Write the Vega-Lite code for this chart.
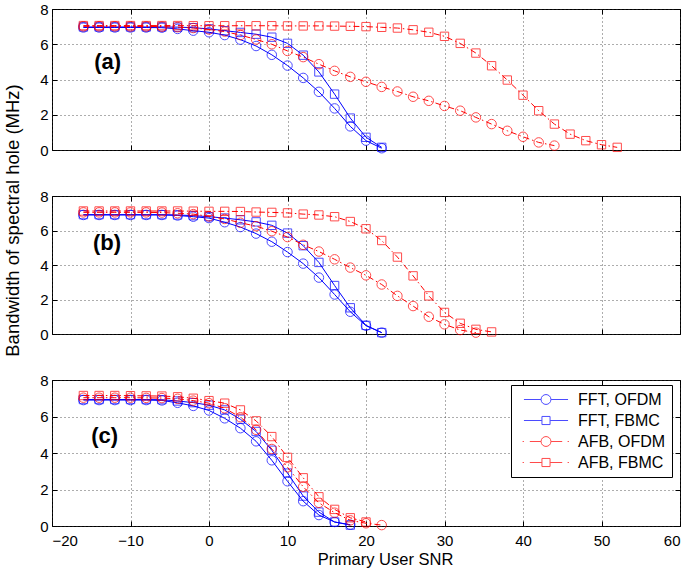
{
  "$schema": "https://vega.github.io/schema/vega-lite/v6.json",
  "padding": {"left": 2, "top": 1, "right": 8, "bottom": 2},
  "bounds": "flush",
  "spacing": 46,
  "data": {
    "values": [
      {"p":"a","s":"FFT, OFDM","x":-16,"y":6.95},{"p":"a","s":"FFT, OFDM","x":-14,"y":6.95},{"p":"a","s":"FFT, OFDM","x":-12,"y":6.95},{"p":"a","s":"FFT, OFDM","x":-10,"y":6.95},{"p":"a","s":"FFT, OFDM","x":-8,"y":6.95},{"p":"a","s":"FFT, OFDM","x":-6,"y":6.94},{"p":"a","s":"FFT, OFDM","x":-4,"y":6.87},{"p":"a","s":"FFT, OFDM","x":-2,"y":6.77},{"p":"a","s":"FFT, OFDM","x":0,"y":6.68},{"p":"a","s":"FFT, OFDM","x":2,"y":6.52},{"p":"a","s":"FFT, OFDM","x":4,"y":6.26},{"p":"a","s":"FFT, OFDM","x":6,"y":5.9},{"p":"a","s":"FFT, OFDM","x":8,"y":5.4},{"p":"a","s":"FFT, OFDM","x":10,"y":4.79},{"p":"a","s":"FFT, OFDM","x":12,"y":4.09},{"p":"a","s":"FFT, OFDM","x":14,"y":3.3},{"p":"a","s":"FFT, OFDM","x":16,"y":2.36},{"p":"a","s":"FFT, OFDM","x":18,"y":1.34},{"p":"a","s":"FFT, OFDM","x":20,"y":0.53},{"p":"a","s":"FFT, OFDM","x":22,"y":0.1},
      {"p":"a","s":"FFT, FBMC","x":-16,"y":6.98},{"p":"a","s":"FFT, FBMC","x":-14,"y":6.98},{"p":"a","s":"FFT, FBMC","x":-12,"y":6.98},{"p":"a","s":"FFT, FBMC","x":-10,"y":6.98},{"p":"a","s":"FFT, FBMC","x":-8,"y":6.98},{"p":"a","s":"FFT, FBMC","x":-6,"y":6.98},{"p":"a","s":"FFT, FBMC","x":-4,"y":6.97},{"p":"a","s":"FFT, FBMC","x":-2,"y":6.94},{"p":"a","s":"FFT, FBMC","x":0,"y":6.87},{"p":"a","s":"FFT, FBMC","x":2,"y":6.77},{"p":"a","s":"FFT, FBMC","x":4,"y":6.67},{"p":"a","s":"FFT, FBMC","x":6,"y":6.57},{"p":"a","s":"FFT, FBMC","x":8,"y":6.4},{"p":"a","s":"FFT, FBMC","x":10,"y":6.05},{"p":"a","s":"FFT, FBMC","x":12,"y":5.38},{"p":"a","s":"FFT, FBMC","x":14,"y":4.43},{"p":"a","s":"FFT, FBMC","x":16,"y":3.17},{"p":"a","s":"FFT, FBMC","x":18,"y":1.81},{"p":"a","s":"FFT, FBMC","x":20,"y":0.72},{"p":"a","s":"FFT, FBMC","x":22,"y":0.15},
      {"p":"a","s":"AFB, OFDM","x":-16,"y":7.02},{"p":"a","s":"AFB, OFDM","x":-14,"y":7.02},{"p":"a","s":"AFB, OFDM","x":-12,"y":7.02},{"p":"a","s":"AFB, OFDM","x":-10,"y":7.01},{"p":"a","s":"AFB, OFDM","x":-8,"y":7.01},{"p":"a","s":"AFB, OFDM","x":-6,"y":7.0},{"p":"a","s":"AFB, OFDM","x":-4,"y":6.97},{"p":"a","s":"AFB, OFDM","x":-2,"y":6.92},{"p":"a","s":"AFB, OFDM","x":0,"y":6.84},{"p":"a","s":"AFB, OFDM","x":2,"y":6.72},{"p":"a","s":"AFB, OFDM","x":4,"y":6.52},{"p":"a","s":"AFB, OFDM","x":6,"y":6.27},{"p":"a","s":"AFB, OFDM","x":8,"y":6.0},{"p":"a","s":"AFB, OFDM","x":10,"y":5.62},{"p":"a","s":"AFB, OFDM","x":12,"y":5.27},{"p":"a","s":"AFB, OFDM","x":14,"y":4.87},{"p":"a","s":"AFB, OFDM","x":16,"y":4.49},{"p":"a","s":"AFB, OFDM","x":18,"y":4.15},{"p":"a","s":"AFB, OFDM","x":20,"y":3.87},{"p":"a","s":"AFB, OFDM","x":22,"y":3.58},{"p":"a","s":"AFB, OFDM","x":24,"y":3.32},{"p":"a","s":"AFB, OFDM","x":26,"y":3.02},{"p":"a","s":"AFB, OFDM","x":28,"y":2.79},{"p":"a","s":"AFB, OFDM","x":30,"y":2.5},{"p":"a","s":"AFB, OFDM","x":32,"y":2.23},{"p":"a","s":"AFB, OFDM","x":34,"y":1.85},{"p":"a","s":"AFB, OFDM","x":36,"y":1.47},{"p":"a","s":"AFB, OFDM","x":38,"y":1.09},{"p":"a","s":"AFB, OFDM","x":40,"y":0.75},{"p":"a","s":"AFB, OFDM","x":42,"y":0.43},{"p":"a","s":"AFB, OFDM","x":44,"y":0.25},
      {"p":"a","s":"AFB, FBMC","x":-16,"y":7.06},{"p":"a","s":"AFB, FBMC","x":-14,"y":7.06},{"p":"a","s":"AFB, FBMC","x":-12,"y":7.06},{"p":"a","s":"AFB, FBMC","x":-10,"y":7.06},{"p":"a","s":"AFB, FBMC","x":-8,"y":7.06},{"p":"a","s":"AFB, FBMC","x":-6,"y":7.06},{"p":"a","s":"AFB, FBMC","x":-4,"y":7.06},{"p":"a","s":"AFB, FBMC","x":-2,"y":7.05},{"p":"a","s":"AFB, FBMC","x":0,"y":7.05},{"p":"a","s":"AFB, FBMC","x":2,"y":7.05},{"p":"a","s":"AFB, FBMC","x":4,"y":7.05},{"p":"a","s":"AFB, FBMC","x":6,"y":7.05},{"p":"a","s":"AFB, FBMC","x":8,"y":7.05},{"p":"a","s":"AFB, FBMC","x":10,"y":7.04},{"p":"a","s":"AFB, FBMC","x":12,"y":7.04},{"p":"a","s":"AFB, FBMC","x":14,"y":7.04},{"p":"a","s":"AFB, FBMC","x":16,"y":7.03},{"p":"a","s":"AFB, FBMC","x":18,"y":7.02},{"p":"a","s":"AFB, FBMC","x":20,"y":7.0},{"p":"a","s":"AFB, FBMC","x":22,"y":6.96},{"p":"a","s":"AFB, FBMC","x":24,"y":6.92},{"p":"a","s":"AFB, FBMC","x":26,"y":6.82},{"p":"a","s":"AFB, FBMC","x":28,"y":6.68},{"p":"a","s":"AFB, FBMC","x":30,"y":6.45},{"p":"a","s":"AFB, FBMC","x":32,"y":6.05},{"p":"a","s":"AFB, FBMC","x":34,"y":5.5},{"p":"a","s":"AFB, FBMC","x":36,"y":4.78},{"p":"a","s":"AFB, FBMC","x":38,"y":3.97},{"p":"a","s":"AFB, FBMC","x":40,"y":3.11},{"p":"a","s":"AFB, FBMC","x":42,"y":2.23},{"p":"a","s":"AFB, FBMC","x":44,"y":1.47},{"p":"a","s":"AFB, FBMC","x":46,"y":0.9},{"p":"a","s":"AFB, FBMC","x":48,"y":0.53},{"p":"a","s":"AFB, FBMC","x":50,"y":0.3},{"p":"a","s":"AFB, FBMC","x":52,"y":0.15},
      {"p":"b","s":"FFT, OFDM","x":-16,"y":6.9},{"p":"b","s":"FFT, OFDM","x":-14,"y":6.9},{"p":"b","s":"FFT, OFDM","x":-12,"y":6.9},{"p":"b","s":"FFT, OFDM","x":-10,"y":6.9},{"p":"b","s":"FFT, OFDM","x":-8,"y":6.9},{"p":"b","s":"FFT, OFDM","x":-6,"y":6.9},{"p":"b","s":"FFT, OFDM","x":-4,"y":6.87},{"p":"b","s":"FFT, OFDM","x":-2,"y":6.8},{"p":"b","s":"FFT, OFDM","x":0,"y":6.72},{"p":"b","s":"FFT, OFDM","x":2,"y":6.48},{"p":"b","s":"FFT, OFDM","x":4,"y":6.2},{"p":"b","s":"FFT, OFDM","x":6,"y":5.82},{"p":"b","s":"FFT, OFDM","x":8,"y":5.35},{"p":"b","s":"FFT, OFDM","x":10,"y":4.75},{"p":"b","s":"FFT, OFDM","x":12,"y":4.08},{"p":"b","s":"FFT, OFDM","x":14,"y":3.27},{"p":"b","s":"FFT, OFDM","x":16,"y":2.29},{"p":"b","s":"FFT, OFDM","x":18,"y":1.29},{"p":"b","s":"FFT, OFDM","x":20,"y":0.48},{"p":"b","s":"FFT, OFDM","x":22,"y":0.08},
      {"p":"b","s":"FFT, FBMC","x":-16,"y":6.92},{"p":"b","s":"FFT, FBMC","x":-14,"y":6.92},{"p":"b","s":"FFT, FBMC","x":-12,"y":6.92},{"p":"b","s":"FFT, FBMC","x":-10,"y":6.92},{"p":"b","s":"FFT, FBMC","x":-8,"y":6.92},{"p":"b","s":"FFT, FBMC","x":-6,"y":6.92},{"p":"b","s":"FFT, FBMC","x":-4,"y":6.9},{"p":"b","s":"FFT, FBMC","x":-2,"y":6.86},{"p":"b","s":"FFT, FBMC","x":0,"y":6.8},{"p":"b","s":"FFT, FBMC","x":2,"y":6.72},{"p":"b","s":"FFT, FBMC","x":4,"y":6.62},{"p":"b","s":"FFT, FBMC","x":6,"y":6.5},{"p":"b","s":"FFT, FBMC","x":8,"y":6.3},{"p":"b","s":"FFT, FBMC","x":10,"y":5.85},{"p":"b","s":"FFT, FBMC","x":12,"y":5.12},{"p":"b","s":"FFT, FBMC","x":14,"y":4.15},{"p":"b","s":"FFT, FBMC","x":16,"y":2.81},{"p":"b","s":"FFT, FBMC","x":18,"y":1.52},{"p":"b","s":"FFT, FBMC","x":20,"y":0.5},{"p":"b","s":"FFT, FBMC","x":22,"y":0.08},
      {"p":"b","s":"AFB, OFDM","x":-16,"y":7.05},{"p":"b","s":"AFB, OFDM","x":-14,"y":7.05},{"p":"b","s":"AFB, OFDM","x":-12,"y":7.05},{"p":"b","s":"AFB, OFDM","x":-10,"y":7.05},{"p":"b","s":"AFB, OFDM","x":-8,"y":7.05},{"p":"b","s":"AFB, OFDM","x":-6,"y":7.04},{"p":"b","s":"AFB, OFDM","x":-4,"y":7.0},{"p":"b","s":"AFB, OFDM","x":-2,"y":6.95},{"p":"b","s":"AFB, OFDM","x":0,"y":6.82},{"p":"b","s":"AFB, OFDM","x":2,"y":6.67},{"p":"b","s":"AFB, OFDM","x":4,"y":6.45},{"p":"b","s":"AFB, OFDM","x":6,"y":6.25},{"p":"b","s":"AFB, OFDM","x":8,"y":5.96},{"p":"b","s":"AFB, OFDM","x":10,"y":5.62},{"p":"b","s":"AFB, OFDM","x":12,"y":5.17},{"p":"b","s":"AFB, OFDM","x":14,"y":4.78},{"p":"b","s":"AFB, OFDM","x":16,"y":4.33},{"p":"b","s":"AFB, OFDM","x":18,"y":3.85},{"p":"b","s":"AFB, OFDM","x":20,"y":3.4},{"p":"b","s":"AFB, OFDM","x":22,"y":2.87},{"p":"b","s":"AFB, OFDM","x":24,"y":2.21},{"p":"b","s":"AFB, OFDM","x":26,"y":1.62},{"p":"b","s":"AFB, OFDM","x":28,"y":1.0},{"p":"b","s":"AFB, OFDM","x":30,"y":0.56},{"p":"b","s":"AFB, OFDM","x":32,"y":0.23},{"p":"b","s":"AFB, OFDM","x":34,"y":0.08},
      {"p":"b","s":"AFB, FBMC","x":-16,"y":7.13},{"p":"b","s":"AFB, FBMC","x":-14,"y":7.13},{"p":"b","s":"AFB, FBMC","x":-12,"y":7.13},{"p":"b","s":"AFB, FBMC","x":-10,"y":7.13},{"p":"b","s":"AFB, FBMC","x":-8,"y":7.13},{"p":"b","s":"AFB, FBMC","x":-6,"y":7.13},{"p":"b","s":"AFB, FBMC","x":-4,"y":7.13},{"p":"b","s":"AFB, FBMC","x":-2,"y":7.12},{"p":"b","s":"AFB, FBMC","x":0,"y":7.11},{"p":"b","s":"AFB, FBMC","x":2,"y":7.11},{"p":"b","s":"AFB, FBMC","x":4,"y":7.1},{"p":"b","s":"AFB, FBMC","x":6,"y":7.07},{"p":"b","s":"AFB, FBMC","x":8,"y":7.05},{"p":"b","s":"AFB, FBMC","x":10,"y":7.02},{"p":"b","s":"AFB, FBMC","x":12,"y":6.95},{"p":"b","s":"AFB, FBMC","x":14,"y":6.9},{"p":"b","s":"AFB, FBMC","x":16,"y":6.8},{"p":"b","s":"AFB, FBMC","x":18,"y":6.52},{"p":"b","s":"AFB, FBMC","x":20,"y":6.1},{"p":"b","s":"AFB, FBMC","x":22,"y":5.42},{"p":"b","s":"AFB, FBMC","x":24,"y":4.46},{"p":"b","s":"AFB, FBMC","x":26,"y":3.37},{"p":"b","s":"AFB, FBMC","x":28,"y":2.21},{"p":"b","s":"AFB, FBMC","x":30,"y":1.25},{"p":"b","s":"AFB, FBMC","x":32,"y":0.62},{"p":"b","s":"AFB, FBMC","x":34,"y":0.27},{"p":"b","s":"AFB, FBMC","x":36,"y":0.12},
      {"p":"c","s":"FFT, OFDM","x":-16,"y":6.9},{"p":"c","s":"FFT, OFDM","x":-14,"y":6.9},{"p":"c","s":"FFT, OFDM","x":-12,"y":6.9},{"p":"c","s":"FFT, OFDM","x":-10,"y":6.9},{"p":"c","s":"FFT, OFDM","x":-8,"y":6.9},{"p":"c","s":"FFT, OFDM","x":-6,"y":6.88},{"p":"c","s":"FFT, OFDM","x":-4,"y":6.75},{"p":"c","s":"FFT, OFDM","x":-2,"y":6.58},{"p":"c","s":"FFT, OFDM","x":0,"y":6.33},{"p":"c","s":"FFT, OFDM","x":2,"y":5.9},{"p":"c","s":"FFT, OFDM","x":4,"y":5.36},{"p":"c","s":"FFT, OFDM","x":6,"y":4.64},{"p":"c","s":"FFT, OFDM","x":8,"y":3.6},{"p":"c","s":"FFT, OFDM","x":10,"y":2.45},{"p":"c","s":"FFT, OFDM","x":12,"y":1.36},{"p":"c","s":"FFT, OFDM","x":14,"y":0.6},{"p":"c","s":"FFT, OFDM","x":16,"y":0.22},{"p":"c","s":"FFT, OFDM","x":18,"y":0.07},
      {"p":"c","s":"FFT, FBMC","x":-16,"y":6.93},{"p":"c","s":"FFT, FBMC","x":-14,"y":6.93},{"p":"c","s":"FFT, FBMC","x":-12,"y":6.93},{"p":"c","s":"FFT, FBMC","x":-10,"y":6.93},{"p":"c","s":"FFT, FBMC","x":-8,"y":6.93},{"p":"c","s":"FFT, FBMC","x":-6,"y":6.92},{"p":"c","s":"FFT, FBMC","x":-4,"y":6.85},{"p":"c","s":"FFT, FBMC","x":-2,"y":6.76},{"p":"c","s":"FFT, FBMC","x":0,"y":6.62},{"p":"c","s":"FFT, FBMC","x":2,"y":6.36},{"p":"c","s":"FFT, FBMC","x":4,"y":5.85},{"p":"c","s":"FFT, FBMC","x":6,"y":5.18},{"p":"c","s":"FFT, FBMC","x":8,"y":4.15},{"p":"c","s":"FFT, FBMC","x":10,"y":2.9},{"p":"c","s":"FFT, FBMC","x":12,"y":1.64},{"p":"c","s":"FFT, FBMC","x":14,"y":0.76},{"p":"c","s":"FFT, FBMC","x":16,"y":0.22},{"p":"c","s":"FFT, FBMC","x":18,"y":0.05},
      {"p":"c","s":"AFB, OFDM","x":-16,"y":7.03},{"p":"c","s":"AFB, OFDM","x":-14,"y":7.03},{"p":"c","s":"AFB, OFDM","x":-12,"y":7.03},{"p":"c","s":"AFB, OFDM","x":-10,"y":7.03},{"p":"c","s":"AFB, OFDM","x":-8,"y":7.02},{"p":"c","s":"AFB, OFDM","x":-6,"y":7.01},{"p":"c","s":"AFB, OFDM","x":-4,"y":6.97},{"p":"c","s":"AFB, OFDM","x":-2,"y":6.87},{"p":"c","s":"AFB, OFDM","x":0,"y":6.73},{"p":"c","s":"AFB, OFDM","x":2,"y":6.45},{"p":"c","s":"AFB, OFDM","x":4,"y":5.96},{"p":"c","s":"AFB, OFDM","x":6,"y":5.27},{"p":"c","s":"AFB, OFDM","x":8,"y":4.22},{"p":"c","s":"AFB, OFDM","x":10,"y":3.22},{"p":"c","s":"AFB, OFDM","x":12,"y":2.15},{"p":"c","s":"AFB, OFDM","x":14,"y":1.27},{"p":"c","s":"AFB, OFDM","x":16,"y":0.73},{"p":"c","s":"AFB, OFDM","x":18,"y":0.31},{"p":"c","s":"AFB, OFDM","x":20,"y":0.15},{"p":"c","s":"AFB, OFDM","x":22,"y":0.05},
      {"p":"c","s":"AFB, FBMC","x":-16,"y":7.15},{"p":"c","s":"AFB, FBMC","x":-14,"y":7.15},{"p":"c","s":"AFB, FBMC","x":-12,"y":7.15},{"p":"c","s":"AFB, FBMC","x":-10,"y":7.14},{"p":"c","s":"AFB, FBMC","x":-8,"y":7.13},{"p":"c","s":"AFB, FBMC","x":-6,"y":7.12},{"p":"c","s":"AFB, FBMC","x":-4,"y":7.08},{"p":"c","s":"AFB, FBMC","x":-2,"y":7.0},{"p":"c","s":"AFB, FBMC","x":0,"y":6.87},{"p":"c","s":"AFB, FBMC","x":2,"y":6.73},{"p":"c","s":"AFB, FBMC","x":4,"y":6.36},{"p":"c","s":"AFB, FBMC","x":6,"y":5.76},{"p":"c","s":"AFB, FBMC","x":8,"y":4.9},{"p":"c","s":"AFB, FBMC","x":10,"y":3.76},{"p":"c","s":"AFB, FBMC","x":12,"y":2.64},{"p":"c","s":"AFB, FBMC","x":14,"y":1.6},{"p":"c","s":"AFB, FBMC","x":16,"y":0.91},{"p":"c","s":"AFB, FBMC","x":18,"y":0.45},{"p":"c","s":"AFB, FBMC","x":20,"y":0.22}
    ]
  },
  "resolve": {"legend": {"color": "independent", "shape": "independent"}},
  "vconcat": [
    {
      "width": 628,
      "height": 141,
      "transform": [{"filter": "datum.p == 'a'"}],
      "resolve": {"axis": {"x": "independent", "y": "independent"}},
      "layer": [
        {
          "transform": [{"filter": "indexof(datum.s, 'FFT') == 0"}],
          "mark": {"type": "line", "strokeWidth": 1},
          "encoding": {
            "x": {"field": "x", "type": "quantitative", "scale": {"domain": [-20, 60], "nice": false, "zero": false},
                  "axis": {"values": [-20, -10, 0, 10, 20, 30, 40, 50, 60], "labels": false, "title": null, "grid": true, "tickSize": -5}},
            "y": {"field": "y", "type": "quantitative", "scale": {"domain": [0, 8], "nice": false},
                  "axis": {"values": [0, 2, 4, 6, 8], "title": null, "grid": true, "tickSize": -5, "labelPadding": 9}},
            "color": {"field": "s", "type": "nominal", "legend": null,
                      "scale": {"domain": ["FFT, OFDM", "FFT, FBMC", "AFB, OFDM", "AFB, FBMC"], "range": ["#0000ff", "#0000ff", "#ff0000", "#ff0000"]}}
          }
        },
        {
          "transform": [{"filter": "datum.s == 'FFT, OFDM'"}],
          "mark": {"type": "point", "shape": "circle", "filled": false, "size": 90, "strokeWidth": 1},
          "encoding": {
            "x": {"field": "x", "type": "quantitative", "axis": null},
            "y": {"field": "y", "type": "quantitative", "axis": null},
            "color": {"field": "s", "type": "nominal", "legend": null}
          }
        },
        {
          "transform": [{"filter": "datum.s == 'FFT, FBMC'"}],
          "mark": {"type": "point", "shape": "square", "filled": false, "size": 70, "strokeWidth": 1},
          "encoding": {
            "x": {"field": "x", "type": "quantitative", "axis": null},
            "y": {"field": "y", "type": "quantitative", "axis": null},
            "color": {"field": "s", "type": "nominal", "legend": null}
          }
        },
        {
          "transform": [{"filter": "indexof(datum.s, 'AFB') == 0"}],
          "mark": {"type": "line", "strokeWidth": 1, "strokeDash": [6, 3, 1.5, 3]},
          "encoding": {
            "x": {"field": "x", "type": "quantitative",
                  "axis": {"orient": "top", "values": [-20, -10, 0, 10, 20, 30, 40, 50, 60], "labels": false, "title": null, "grid": false, "tickSize": -5}},
            "y": {"field": "y", "type": "quantitative",
                  "axis": {"orient": "right", "values": [0, 2, 4, 6, 8], "labels": false, "title": null, "grid": false, "tickSize": -5}},
            "color": {"field": "s", "type": "nominal", "legend": null}
          }
        },
        {
          "transform": [{"filter": "datum.s == 'AFB, OFDM'"}],
          "mark": {"type": "point", "shape": "circle", "filled": false, "size": 90, "strokeWidth": 1},
          "encoding": {
            "x": {"field": "x", "type": "quantitative", "axis": null},
            "y": {"field": "y", "type": "quantitative", "axis": null},
            "color": {"field": "s", "type": "nominal", "legend": null}
          }
        },
        {
          "transform": [{"filter": "datum.s == 'AFB, FBMC'"}],
          "mark": {"type": "point", "shape": "square", "filled": false, "size": 70, "strokeWidth": 1},
          "encoding": {
            "x": {"field": "x", "type": "quantitative", "axis": null},
            "y": {"field": "y", "type": "quantitative", "axis": null},
            "color": {"field": "s", "type": "nominal", "legend": null}
          }
        },
        {
          "transform": [{"filter": "datum.s == 'FFT, OFDM' && datum.x == -16"}],
          "mark": {"type": "text", "fontSize": 22, "fontWeight": "bold", "align": "center", "baseline": "middle", "color": "black"},
          "encoding": {
            "x": {"datum": -12.9, "type": "quantitative", "axis": null},
            "y": {"datum": 4.98, "type": "quantitative", "axis": null},
            "text": {"value": "(a)"}
          }
        }
      ]
    },
    {
      "width": 628,
      "height": 138,
      "transform": [{"filter": "datum.p == 'b'"}],
      "resolve": {"axis": {"x": "independent", "y": "independent"}},
      "layer": [
        {
          "transform": [{"filter": "indexof(datum.s, 'FFT') == 0"}],
          "mark": {"type": "line", "strokeWidth": 1},
          "encoding": {
            "x": {"field": "x", "type": "quantitative", "scale": {"domain": [-20, 60], "nice": false, "zero": false},
                  "axis": {"values": [-20, -10, 0, 10, 20, 30, 40, 50, 60], "labels": false, "title": null, "grid": true, "tickSize": -5}},
            "y": {"field": "y", "type": "quantitative", "scale": {"domain": [0, 8], "nice": false},
                  "axis": {"values": [0, 2, 4, 6, 8], "grid": true, "tickSize": -5, "labelPadding": 9,
                           "title": "Bandwidth of spectral hole (MHz)", "titleFontSize": 18.5, "titleFontWeight": "normal",
                           "titleX": -34, "titleY": 24, "titleAngle": -90, "titleAlign": "center", "titleBaseline": "alphabetic"}},
            "color": {"field": "s", "type": "nominal", "legend": null,
                      "scale": {"domain": ["FFT, OFDM", "FFT, FBMC", "AFB, OFDM", "AFB, FBMC"], "range": ["#0000ff", "#0000ff", "#ff0000", "#ff0000"]}}
          }
        },
        {
          "transform": [{"filter": "datum.s == 'FFT, OFDM'"}],
          "mark": {"type": "point", "shape": "circle", "filled": false, "size": 90, "strokeWidth": 1},
          "encoding": {
            "x": {"field": "x", "type": "quantitative", "axis": null},
            "y": {"field": "y", "type": "quantitative", "axis": null},
            "color": {"field": "s", "type": "nominal", "legend": null}
          }
        },
        {
          "transform": [{"filter": "datum.s == 'FFT, FBMC'"}],
          "mark": {"type": "point", "shape": "square", "filled": false, "size": 70, "strokeWidth": 1},
          "encoding": {
            "x": {"field": "x", "type": "quantitative", "axis": null},
            "y": {"field": "y", "type": "quantitative", "axis": null},
            "color": {"field": "s", "type": "nominal", "legend": null}
          }
        },
        {
          "transform": [{"filter": "indexof(datum.s, 'AFB') == 0"}],
          "mark": {"type": "line", "strokeWidth": 1, "strokeDash": [6, 3, 1.5, 3]},
          "encoding": {
            "x": {"field": "x", "type": "quantitative",
                  "axis": {"orient": "top", "values": [-20, -10, 0, 10, 20, 30, 40, 50, 60], "labels": false, "title": null, "grid": false, "tickSize": -5}},
            "y": {"field": "y", "type": "quantitative",
                  "axis": {"orient": "right", "values": [0, 2, 4, 6, 8], "labels": false, "title": null, "grid": false, "tickSize": -5}},
            "color": {"field": "s", "type": "nominal", "legend": null}
          }
        },
        {
          "transform": [{"filter": "datum.s == 'AFB, OFDM'"}],
          "mark": {"type": "point", "shape": "circle", "filled": false, "size": 90, "strokeWidth": 1},
          "encoding": {
            "x": {"field": "x", "type": "quantitative", "axis": null},
            "y": {"field": "y", "type": "quantitative", "axis": null},
            "color": {"field": "s", "type": "nominal", "legend": null}
          }
        },
        {
          "transform": [{"filter": "datum.s == 'AFB, FBMC'"}],
          "mark": {"type": "point", "shape": "square", "filled": false, "size": 70, "strokeWidth": 1},
          "encoding": {
            "x": {"field": "x", "type": "quantitative", "axis": null},
            "y": {"field": "y", "type": "quantitative", "axis": null},
            "color": {"field": "s", "type": "nominal", "legend": null}
          }
        },
        {
          "transform": [{"filter": "datum.s == 'FFT, OFDM' && datum.x == -16"}],
          "mark": {"type": "text", "fontSize": 22, "fontWeight": "bold", "align": "center", "baseline": "middle", "color": "black"},
          "encoding": {
            "x": {"datum": -13.0, "type": "quantitative", "axis": null},
            "y": {"datum": 5.27, "type": "quantitative", "axis": null},
            "text": {"value": "(b)"}
          }
        }
      ]
    },
    {
      "width": 628,
      "height": 146,
      "transform": [{"filter": "datum.p == 'c'"}],
      "resolve": {"axis": {"x": "independent", "y": "independent"}},
      "layer": [
        {
          "mark": {"type": "point", "filled": false, "size": 81, "strokeWidth": 1, "clip": true},
          "encoding": {
            "x": {"field": "x", "type": "quantitative", "axis": null},
            "y": {"datum": -20, "type": "quantitative", "axis": null},
            "color": {"field": "s", "type": "nominal",
                      "legend": {"orient": "none", "legendX": 459, "legendY": 5, "title": null, "symbolSize": 81,
                                 "symbolOffset": 20.5, "labelOffset": 24, "padding": 6.5, "rowPadding": 5,
                                 "labelFontSize": 16, "labelColor": "black", "strokeColor": "black", "fillColor": "white",
                                 "symbolStrokeWidth": 1}},
            "shape": {"field": "s", "type": "nominal",
                      "scale": {"domain": ["FFT, OFDM", "FFT, FBMC", "AFB, OFDM", "AFB, FBMC"],
                                "range": [
                                  "M-4.9,0L-1.1,0M1.1,0L4.9,0M1.1,0A1.1,1.1,0,1,1,-1.1,0A1.1,1.1,0,1,1,1.1,0Z",
                                  "M-4.9,0L-0.9,0M0.9,0L4.9,0M-0.9,-0.9L0.9,-0.9L0.9,0.9L-0.9,0.9Z",
                                  "M-5.2,0L-4.9,0M-3.6,0L-1.1,0M1.1,0L3.6,0M4.8,0L5.1,0M1.1,0A1.1,1.1,0,1,1,-1.1,0A1.1,1.1,0,1,1,1.1,0Z",
                                  "M-5.2,0L-4.9,0M-3.6,0L-0.9,0M0.9,0L3.6,0M4.8,0L5.1,0M-0.9,-0.9L0.9,-0.9L0.9,0.9L-0.9,0.9Z"
                                ]},
                      "legend": {"orient": "none", "legendX": 459, "legendY": 5, "title": null, "symbolSize": 81,
                                 "symbolOffset": 20.5, "labelOffset": 24, "padding": 6.5, "rowPadding": 5,
                                 "labelFontSize": 16, "labelColor": "black", "strokeColor": "black", "fillColor": "white",
                                 "symbolStrokeWidth": 1}}
          }
        },
        {
          "transform": [{"filter": "indexof(datum.s, 'FFT') == 0"}],
          "mark": {"type": "line", "strokeWidth": 1},
          "encoding": {
            "x": {"field": "x", "type": "quantitative", "scale": {"domain": [-20, 60], "nice": false, "zero": false},
                  "axis": {"values": [-20, -10, 0, 10, 20, 30, 40, 50, 60], "grid": true, "tickSize": -5, "labelPadding": 12,
                           "title": "Primary User SNR", "titleFontSize": 16.5, "titleFontWeight": "normal",
                           "titleX": 333, "titleY": 38, "titleBaseline": "alphabetic", "titleAlign": "center"}},
            "y": {"field": "y", "type": "quantitative", "scale": {"domain": [0, 8], "nice": false},
                  "axis": {"values": [0, 2, 4, 6, 8], "title": null, "grid": true, "tickSize": -5, "labelPadding": 9}},
            "color": {"field": "s", "type": "nominal", "legend": null,
                      "scale": {"domain": ["FFT, OFDM", "FFT, FBMC", "AFB, OFDM", "AFB, FBMC"], "range": ["#0000ff", "#0000ff", "#ff0000", "#ff0000"]}}
          }
        },
        {
          "transform": [{"filter": "datum.s == 'FFT, OFDM'"}],
          "mark": {"type": "point", "shape": "circle", "filled": false, "size": 90, "strokeWidth": 1},
          "encoding": {
            "x": {"field": "x", "type": "quantitative", "axis": null},
            "y": {"field": "y", "type": "quantitative", "axis": null},
            "color": {"field": "s", "type": "nominal", "legend": null}
          }
        },
        {
          "transform": [{"filter": "datum.s == 'FFT, FBMC'"}],
          "mark": {"type": "point", "shape": "square", "filled": false, "size": 70, "strokeWidth": 1},
          "encoding": {
            "x": {"field": "x", "type": "quantitative", "axis": null},
            "y": {"field": "y", "type": "quantitative", "axis": null},
            "color": {"field": "s", "type": "nominal", "legend": null}
          }
        },
        {
          "transform": [{"filter": "indexof(datum.s, 'AFB') == 0"}],
          "mark": {"type": "line", "strokeWidth": 1, "strokeDash": [6, 3, 1.5, 3]},
          "encoding": {
            "x": {"field": "x", "type": "quantitative",
                  "axis": {"orient": "top", "values": [-20, -10, 0, 10, 20, 30, 40, 50, 60], "labels": false, "title": null, "grid": false, "tickSize": -5}},
            "y": {"field": "y", "type": "quantitative",
                  "axis": {"orient": "right", "values": [0, 2, 4, 6, 8], "labels": false, "title": null, "grid": false, "tickSize": -5}},
            "color": {"field": "s", "type": "nominal", "legend": null}
          }
        },
        {
          "transform": [{"filter": "datum.s == 'AFB, OFDM'"}],
          "mark": {"type": "point", "shape": "circle", "filled": false, "size": 90, "strokeWidth": 1},
          "encoding": {
            "x": {"field": "x", "type": "quantitative", "axis": null},
            "y": {"field": "y", "type": "quantitative", "axis": null},
            "color": {"field": "s", "type": "nominal", "legend": null}
          }
        },
        {
          "transform": [{"filter": "datum.s == 'AFB, FBMC'"}],
          "mark": {"type": "point", "shape": "square", "filled": false, "size": 70, "strokeWidth": 1},
          "encoding": {
            "x": {"field": "x", "type": "quantitative", "axis": null},
            "y": {"field": "y", "type": "quantitative", "axis": null},
            "color": {"field": "s", "type": "nominal", "legend": null}
          }
        },
        {
          "transform": [{"filter": "datum.s == 'FFT, OFDM' && datum.x == -16"}],
          "mark": {"type": "text", "fontSize": 22, "fontWeight": "bold", "align": "center", "baseline": "middle", "color": "black"},
          "encoding": {
            "x": {"datum": -13.3, "type": "quantitative", "axis": null},
            "y": {"datum": 4.93, "type": "quantitative", "axis": null},
            "text": {"value": "(c)"}
          }
        }
      ]
    }
  ],
  "config": {
    "font": "Liberation Sans",
    "view": {"stroke": "black", "strokeWidth": 1},
    "axis": {
      "domain": false,
      "labelFont": "Liberation Sans",
      "labelFontSize": 15,
      "labelColor": "black",
      "tickColor": "black",
      "tickWidth": 1,
      "titleFont": "Liberation Sans",
      "titleColor": "black",
      "gridColor": "#333333",
      "gridOpacity": 0.8,
      "gridDash": [1, 3],
      "gridWidth": 1
    },
    "legend": {"labelFont": "Liberation Sans", "cornerRadius": 0, "strokeWidth": 1}
  }
}
